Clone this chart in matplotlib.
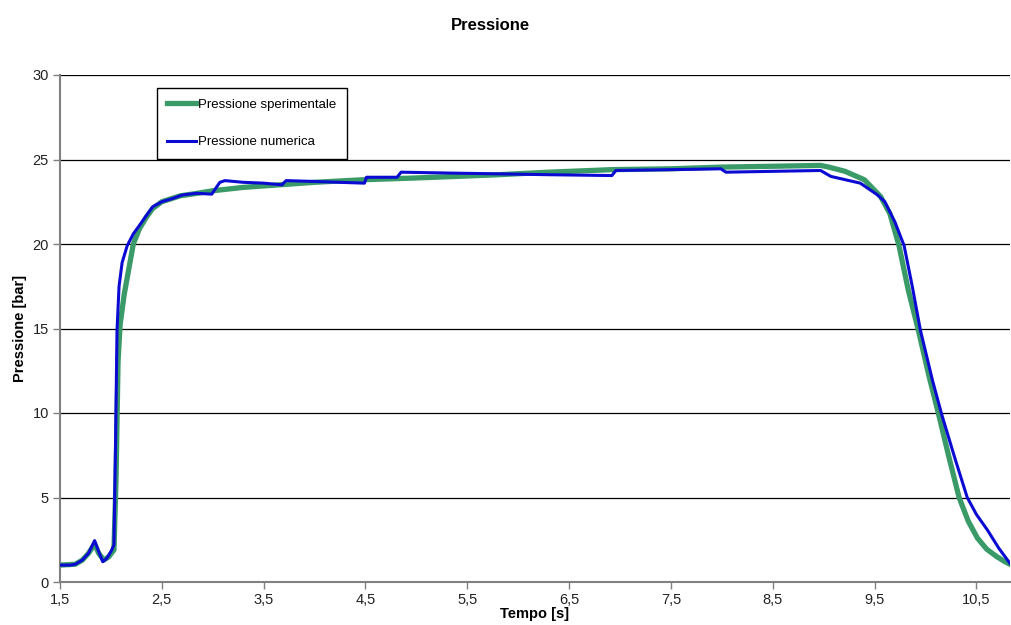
import matplotlib
matplotlib.use("Agg")
import matplotlib.pyplot as plt
from matplotlib.ticker import FuncFormatter

plt.rcParams['font.family'] = ['Liberation Sans', 'DejaVu Sans']

# valori
t_num = [1.5, 1.6, 1.65, 1.72, 1.78, 1.84, 1.88, 1.92, 1.96, 2.0, 2.03, 2.045, 2.06,
         2.08, 2.11, 2.16, 2.22, 2.28, 2.35, 2.41, 2.5, 2.61, 2.7, 2.84, 2.99, 3.03,
         3.07, 3.12, 3.3, 3.5, 3.68, 3.72, 4.0, 4.49, 4.51, 4.81, 4.85, 5.3, 5.81,
         6.3, 6.92, 6.96, 7.5, 7.99, 8.04, 8.5, 8.97, 9.07, 9.36, 9.53, 9.6, 9.7,
         9.79, 9.87, 9.95, 10.07, 10.16, 10.29, 10.41, 10.5, 10.61, 10.72, 10.83]
p_num = [1.0, 1.0, 1.05, 1.3, 1.7, 2.45, 1.8, 1.2, 1.4, 1.8, 2.2, 8.0, 14.9,
         17.5, 18.9, 19.9, 20.6, 21.1, 21.7, 22.2, 22.5, 22.7, 22.9, 23.0, 22.95, 23.3,
         23.65, 23.75, 23.65, 23.6, 23.5, 23.75, 23.7, 23.6, 23.95, 23.95, 24.25, 24.2, 24.15,
         24.1, 24.05, 24.35, 24.4, 24.45, 24.25, 24.3, 24.35, 24.0, 23.6, 22.9, 22.5, 21.3,
         19.9, 17.5, 14.9, 11.9, 9.9, 7.3, 5.0, 4.0, 3.06, 2.0, 1.1]

t_exp = [1.5, 1.65, 1.72, 1.78, 1.84, 1.88, 1.93, 1.98, 2.03, 2.05, 2.07, 2.09, 2.13,
         2.19, 2.22, 2.28, 2.35, 2.41, 2.5, 2.68, 2.85, 3.0, 3.3, 3.65, 4.0, 4.47,
         4.96, 5.4, 5.81, 6.3, 6.92, 7.5, 7.99, 8.5, 8.97, 9.05, 9.21, 9.4, 9.56,
         9.65, 9.74, 9.83, 9.93, 10.03, 10.13, 10.23, 10.33, 10.42, 10.51, 10.6, 10.7,
         10.78, 10.83]
p_exp = [1.0, 1.05, 1.3, 1.7, 2.25, 1.7, 1.3, 1.5, 1.9, 6.0, 13.0, 15.2, 17.0,
         19.0, 20.0, 20.9, 21.6, 22.1, 22.5, 22.85, 23.0, 23.15, 23.35, 23.5, 23.65, 23.8,
         23.9, 24.0, 24.1, 24.25, 24.4, 24.45, 24.55, 24.6, 24.65, 24.55, 24.3, 23.8, 22.8,
         21.8, 19.9, 17.3, 14.9, 12.3, 9.9, 7.4, 5.0, 3.6, 2.6, 1.95, 1.5,
         1.2, 1.05]

x_ticks = [1.5, 2.5, 3.5, 4.5, 5.5, 6.5, 7.5, 8.5, 9.5, 10.5]
y_ticks = [0, 5, 10, 15, 20, 25, 30]

fig = plt.figure(figsize=(10.12, 6.25), dpi=100)
ax = fig.add_axes([60/1012, 43/625, 950/1012, 507/625])

for y in y_ticks[1:]:
    ax.axhline(y, color='black', lw=0.9, zorder=1)

ax.plot(t_exp, p_exp, color='#3a9a68', lw=3.8, label='Pressione sperimentale',
        solid_joinstyle='round', zorder=2)
ax.plot(t_num, p_num, color='#0a0ad2', lw=2.2, label='Pressione numerica',
        solid_joinstyle='round', zorder=3)

ax.set_xlim(1.5, 10.83)
ax.set_ylim(0, 30)
ax.set_xticks(x_ticks)
ax.set_yticks(y_ticks)
ax.xaxis.set_major_formatter(FuncFormatter(lambda v, p: f"{v:.1f}".replace('.', ',')))
ax.tick_params(direction='out', length=5, width=1, color='#808080', labelsize=10.5,
               labelcolor='#222222', pad=3)

for s in ['top', 'right']:
    ax.spines[s].set_visible(False)
for s in ['left', 'bottom']:
    ax.spines[s].set_color('#808080')
    ax.spines[s].set_linewidth(1.5)

ax.set_xlabel('Tempo [s]', fontsize=10.5, fontweight='bold', labelpad=0)
ax.set_ylabel('Pressione [bar]', fontsize=10.5, fontweight='bold', labelpad=4)
fig.text(490/1012, 1 - 25/625, 'Pressione', ha='center', va='center',
         fontsize=12, fontweight='bold')

leg = ax.legend(loc='upper left', bbox_to_anchor=(0.102, 0.974), fontsize=9.5,
                frameon=True, fancybox=False, edgecolor='black', framealpha=1,
                borderpad=0.8, labelspacing=1.9, handlelength=2.2, handletextpad=0.1,
                borderaxespad=0)
leg.get_frame().set_linewidth(1.0)

fig.savefig('out.png', dpi=100)
